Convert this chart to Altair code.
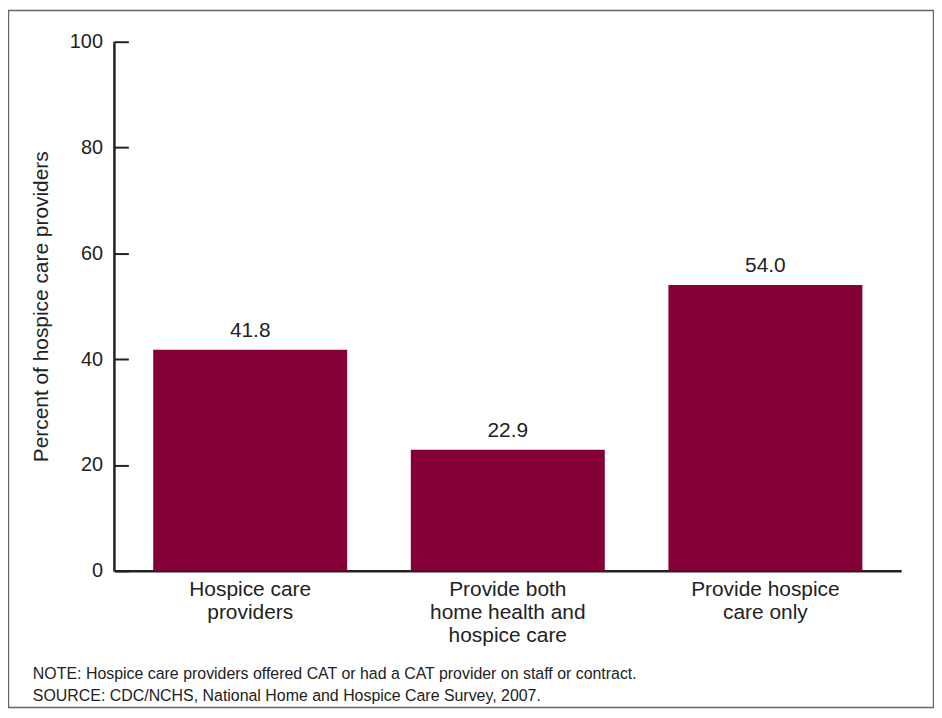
import altair as alt
import pandas as pd

categories = ["Hospice care|providers", "Provide both|home health and|hospice care", "Provide hospice|care only"]
values = [41.8, 22.9, 54.0]
y_ticks = [0, 20, 40, 60, 80, 100]
note_lines = [
    "NOTE: Hospice care providers offered CAT or had a CAT provider on staff or contract.",
    "SOURCE: CDC/NCHS, National Home and Hospice Care Survey, 2007.",
]

df = pd.DataFrame({"category": categories, "value": values})

FONT = "Liberation Sans"
TXT = "#222222"
BAR = "#840037"

x_enc = alt.X(
    "category:N",
    sort=categories,
    title=None,
    scale=alt.Scale(paddingInner=0.247, paddingOuter=0.1506),
    axis=alt.Axis(
        labelAngle=0,
        labelExpr="split(datum.label, '|')",
        labelFontSize=21,
        labelLineHeight=23,
        labelColor=TXT,
        labelFont=FONT,
        labelPadding=8,
        labelLimit=400,
        ticks=False,
        domain=True,
        domainColor="#222222",
        domainWidth=2.5,
        grid=False,
    ),
)

y_enc = alt.Y(
    "value:Q",
    scale=alt.Scale(domain=[0, 100], nice=False),
    axis=alt.Axis(
        values=y_ticks,
        title="Percent of hospice care providers",
        titleFontSize=21,
        titleFontWeight="normal",
        titleFont=FONT,
        titleColor=TXT,
        titlePadding=18,
        labelFontSize=20,
        labelFont=FONT,
        labelColor=TXT,
        labelPadding=12,
        offset=-14,
        tickSize=14,
        tickWidth=2,
        tickColor="#222222",
        domain=False,
        grid=False,
    ),
)

bars = alt.Chart(df).mark_bar(color=BAR).encode(x=x_enc, y=y_enc)

labels = alt.Chart(df).mark_text(
    dy=-13, baseline="alphabetic", fontSize=21, font=FONT, color=TXT
).encode(
    x=alt.X("category:N", sort=categories),
    y="value:Q",
    text=alt.Text("value:Q", format=".1f"),
)

one = pd.DataFrame({"a": [0]})

y_line = alt.Chart(one).mark_rule(color="#222222", strokeWidth=2.5).encode(
    x=alt.value(0), y=alt.value(0), y2=alt.value(533)
)

border = alt.Chart(one).mark_rect(fill=None, stroke="#666666", strokeWidth=1.5).encode(
    x=alt.value(-106.5), x2=alt.value(823.5), y=alt.value(-31.5), y2=alt.value(669.5)
)

notes = alt.Chart(one).mark_text(
    text=note_lines,
    align="left",
    baseline="alphabetic",
    fontSize=16,
    lineHeight=22,
    font=FONT,
    color=TXT,
).encode(x=alt.value(-82), y=alt.value(641))

chart = alt.layer(border, bars, labels, y_line, notes).properties(
    width=791,
    height=532,
    padding={"left": 107, "top": 32, "right": 33, "bottom": 138},
    autosize=alt.AutoSizeParams(type="none"),
).configure(background="white").configure_view(stroke=None)

chart.save("out.html", embed_options={"renderer": "svg", "actions": False})
